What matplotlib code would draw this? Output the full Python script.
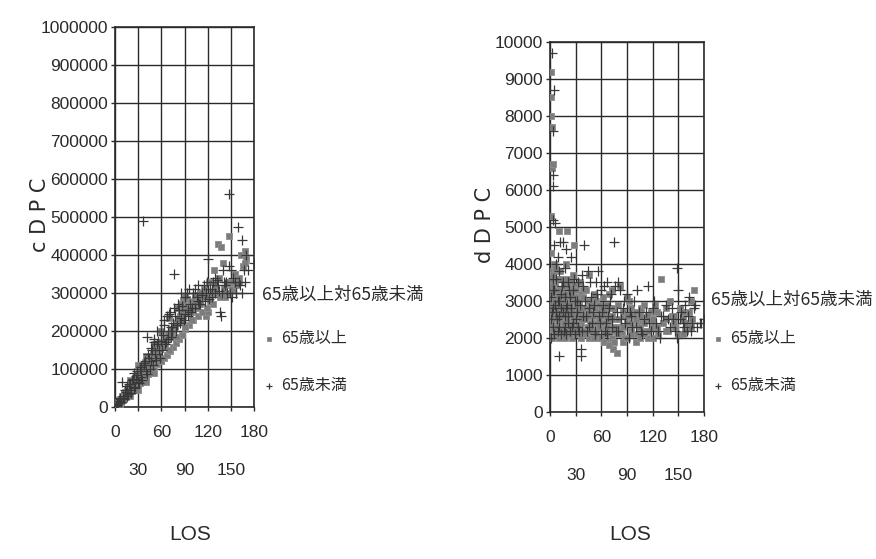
import matplotlib
matplotlib.use("Agg")
import matplotlib.pyplot as plt

# データ: 左 = cDPC (千円), 右 = dDPC (円/日), 横軸 = LOS (日)
los_c_old = [1, 2, 3, 4, 5, 6, 7, 8, 9, 10, 11, 12, 13, 14, 15, 16, 17, 18, 19, 20,
             21, 22, 23, 24, 25, 26, 27, 28, 29, 30, 31, 32, 33, 34, 35, 36, 37, 38, 39, 40,
             42, 44, 45, 46, 48, 50, 52, 54, 55, 56, 58, 60, 62, 64, 65, 66, 68, 70, 72, 74,
             75, 76, 78, 80, 82, 84, 85, 86, 88, 90, 92, 95, 98, 100, 102, 105, 108, 110, 112, 115,
             118, 120, 122, 125, 128, 130, 133, 135, 137, 140, 142, 145, 147, 150, 152, 155, 160, 163, 168, 170,
             2, 3, 4, 5, 6, 7, 8, 9, 10, 11, 12, 13, 14, 15, 16, 17, 18, 19, 20, 21,
             22, 23, 24, 25, 26, 27, 28, 29, 30, 31, 32, 33, 34, 35, 36, 37, 38, 39, 40, 41,
             43, 45, 47, 49, 51, 53, 55, 57, 59, 61, 63, 65, 67, 69, 71, 73, 75, 77, 79, 81,
             83, 85, 87, 89, 91, 93, 96, 99, 101, 104, 107, 110, 113, 116, 119, 123, 127, 131, 136, 141,
             146, 151, 156, 161, 166, 168,
             20, 30, 40, 50, 60, 70, 80, 90, 100, 20, 30, 40, 50, 60, 70, 80, 90]
cdpc_old = [3, 6, 9, 12, 10, 18, 15, 22, 20, 28, 25, 33, 30, 38, 36, 42, 40, 48, 45, 52,
            50, 58, 55, 62, 60, 68, 64, 72, 70, 78, 74, 85, 80, 90, 86, 95, 92, 100, 96, 105,
            110, 115, 108, 122, 126, 130, 138, 140, 132, 150, 152, 160, 165, 170, 158, 180, 182, 190, 195, 198,
            185, 210, 212, 220, 225, 240, 230, 270, 280, 260, 250, 265, 270, 275, 280, 260, 290, 270, 300, 310,
            240, 250, 330, 300, 360, 320, 430, 340, 420, 380, 290, 330, 450, 320, 310, 350, 330, 400, 410, 390,
            3, 12, 6, 18, 9, 22, 14, 28, 18, 34, 22, 40, 26, 46, 30, 52, 34, 58, 38, 62,
            42, 68, 46, 74, 50, 80, 54, 86, 58, 92, 62, 98, 66, 104, 70, 112, 74, 118, 78, 124,
            88, 132, 96, 140, 104, 150, 112, 160, 120, 172, 130, 182, 138, 192, 148, 205, 158, 214, 168, 232,
            178, 250, 190, 262, 205, 285, 215, 250, 228, 295, 240, 300, 250, 290, 260, 280, 270, 300, 290, 310,
            300, 330, 320, 340, 370, 380,
            30, 45, 65, 90, 120, 150, 185, 210, 230, 70, 110, 135, 165, 200, 235, 260, 290]

los_c_young = [1, 2, 3, 5, 7, 8, 9, 10, 12, 14, 15, 17, 19, 20, 22, 24, 25, 27, 29, 30,
               32, 34, 36, 37, 39, 40, 42, 44, 46, 48, 50, 52, 54, 55, 57, 60, 62, 64, 66, 68,
               70, 72, 75, 77, 78, 80, 83, 85, 87, 90, 93, 95, 97, 100, 103, 106, 108, 110, 112, 115,
               118, 120, 122, 125, 127, 130, 132, 135, 137, 140, 142, 145, 147, 148, 150, 152, 155, 157, 159, 162,
               165, 167, 170, 172, 180,
               4, 6, 11, 13, 16, 18, 21, 23, 26, 28, 31, 33, 35, 38, 41, 43, 45, 47, 49, 51,
               53, 56, 58, 59, 61, 63, 65, 67, 69, 71, 73, 74, 76, 79, 81, 84, 86, 89, 91, 94,
               96, 99, 101, 104, 107, 109, 113, 116, 119, 123, 126, 129, 133, 136, 138, 141, 144, 149, 153, 156,
               161, 164, 168]
cdpc_young = [2, 8, 5, 15, 20, 12, 65, 30, 25, 40, 55, 35, 60, 45, 70, 50, 90, 75, 95, 65,
              100, 80, 490, 110, 120, 95, 185, 130, 120, 150, 170, 140, 165, 200, 150, 175, 190, 215, 170, 200,
              245, 210, 220, 350, 240, 215, 255, 235, 265, 245, 300, 255, 270, 260, 310, 290, 280, 270, 295, 320,
              300, 390, 285, 310, 330, 300, 335, 305, 240, 360, 320, 300, 560, 370, 360, 290, 330, 300, 475, 320,
              440, 360, 400, 360, 380,
              10, 25, 20, 45, 28, 60, 38, 75, 52, 85, 62, 105, 72, 115, 88, 140, 100, 155, 110, 180,
              125, 175, 130, 200, 150, 230, 165, 240, 180, 250, 185, 200, 260, 200, 270, 220, 300, 230, 290, 240,
              310, 250, 300, 260, 320, 270, 300, 280, 330, 310, 290, 340, 320, 250, 300, 330, 330, 300, 340, 300,
              330, 300, 330]

los_d_old = [1, 1, 1, 1, 1, 1, 1, 1, 2, 2, 2, 2, 3, 3, 3, 3, 4, 4, 5, 5,
             5, 6, 6, 7, 7, 8, 8, 9, 9, 10, 10, 10, 11, 12, 12, 13, 14, 14, 15, 16,
             16, 17, 18, 18, 19, 20, 20, 21, 22, 23, 24, 25, 25, 26, 27, 28, 28, 29, 30, 31,
             32, 33, 34, 35, 36, 37, 38, 39, 40, 42, 44, 46, 48, 50, 52, 54, 56, 58, 60, 62,
             64, 66, 68, 70, 72, 74, 76, 78, 80, 82, 84, 86, 88, 90, 92, 95, 98, 100, 103, 106,
             109, 112, 115, 118, 120, 123, 126, 130, 132, 135, 138, 140, 143, 146, 150, 152, 155, 158, 160, 163,
             166, 168,
             0, 0, 0, 2, 2, 2, 4, 4, 4, 6, 6, 6, 8, 8, 8, 10, 10, 10, 12, 12,
             12, 14, 14, 14, 16, 16, 16, 18, 18, 18, 20, 20, 20, 22, 22, 22, 24, 24, 24, 26,
             26, 26, 28, 28, 28, 30, 30, 30, 33, 33, 33, 36, 36, 36, 39, 39, 39, 42, 42, 42,
             45, 45, 45, 48, 48, 48, 51, 51, 51, 54, 54, 54, 57, 57, 57, 60, 60, 60, 63, 63,
             63, 66, 66, 66, 69, 69, 69, 72, 72, 72, 75, 75, 75, 80, 80, 80, 85, 85, 85, 90,
             90, 90, 95, 95, 95, 100, 100, 100, 105, 105, 105, 110, 110, 110, 115, 115, 120, 120, 125, 125,
             135, 135, 145, 145, 155, 155, 165, 165]
ddpc_old = [2100, 2900, 3500, 4300, 5300, 8000, 8500, 9200, 2400, 3200, 6600, 7700, 2200, 2700, 3800, 6700, 2500, 3100, 2300, 2900,
            4000, 2600, 3400, 2200, 3000, 2800, 3600, 2400, 3200, 2100, 2700, 4900, 3000, 2500, 3800, 2300, 2900, 3300, 2600, 2200,
            3100, 2800, 2400, 3500, 4000, 2700, 4900, 2300, 3000, 2500, 2900, 2200, 3300, 2600, 3700, 2400, 4500, 2800, 2300, 3100,
            2600, 2200, 2900, 3500, 2400, 2700, 2100, 3300, 2500, 2800, 2300, 3700, 2600, 2200, 3100, 2400, 2000, 2700, 2300, 3100,
            2100, 2500, 1900, 2800, 2200, 1700, 2500, 1600, 2300, 3400, 2100, 2600, 2000, 2400, 3000, 2200, 2600, 2100, 2400, 2800,
            2200, 2500, 2000, 2700, 2300, 2900, 2100, 3600, 2400, 2800, 2200, 3000, 2600, 2300, 2100, 2800, 2500, 2200, 2400, 2700,
            2500, 3300,
            2300, 2700, 3200, 2000, 2900, 3400, 2200, 2600, 3700, 2100, 3000, 3900, 2300, 2600, 3300, 2000, 3100, 3600, 2200, 2900,
            3300, 2100, 2600, 3600, 2400, 2800, 3400, 2000, 3000, 3200, 2200, 2500, 3600, 2100, 2700, 3400, 2300, 3100, 3500, 2000,
            2800, 3200, 2200, 2600, 3400, 2100, 2900, 3300, 2300, 2700, 3000, 2000, 2500, 3200, 2200, 2800, 3100, 2100, 2500, 3300,
            2000, 2700, 3000, 2200, 2400, 2900, 2000, 2600, 3200, 2100, 2800, 3000, 2300, 2500, 2900, 2000, 2600, 2800, 1900, 2400,
            2700, 2100, 2300, 2900, 1800, 2500, 3200, 2000, 2600, 3300, 1900, 2300, 2800, 2100, 2500, 2900, 1900, 2300, 2700, 2000,
            2600, 3100, 2100, 2400, 2800, 1900, 2500, 2700, 2000, 2300, 2600, 2100, 2400, 2900, 2200, 2600, 2000, 2500, 2300, 2700,
            2200, 2500, 2400, 2600, 2100, 2700, 2300, 3000]

los_d_young = [2, 5, 4, 4, 3, 4, 6, 1, 2, 3, 4, 5, 6, 7, 8, 9, 10, 10, 11, 12,
               13, 14, 15, 16, 17, 18, 19, 20, 21, 22, 24, 25, 26, 28, 30, 32, 34, 36, 36, 38,
               40, 42, 44, 46, 48, 50, 52, 54, 56, 58, 60, 62, 64, 66, 68, 70, 72, 75, 76, 78,
               80, 82, 85, 88, 90, 92, 95, 98, 100, 104, 108, 110, 115, 118, 120, 124, 128, 132, 135, 140,
               144, 148, 148, 150, 152, 155, 158, 160, 163, 166, 170, 172, 175, 180,
               1, 1, 3, 3, 5, 5, 7, 7, 9, 9, 11, 11, 13, 13, 15, 15, 17, 17, 19, 19,
               21, 21, 23, 23, 25, 27, 27, 29, 29, 31, 33, 33, 35, 37, 37, 39, 41, 43, 45, 47,
               49, 51, 53, 55, 57, 59, 61, 63, 65, 67, 69, 71, 73, 77, 79, 83, 86, 93, 96, 102,
               106, 112, 116, 122, 126, 130, 138, 142, 146, 153, 157, 161, 165, 168, 177]
ddpc_young = [9700, 8700, 7600, 6400, 6100, 5200, 5100, 2000, 2700, 3300, 2300, 4500, 2900, 3600, 2500, 4200, 1500, 3000, 2300, 4600,
              2800, 3400, 4600, 2200, 3100, 2600, 4400, 2900, 2400, 3300, 2700, 4200, 2300, 3600, 2500, 3000, 2200, 1500, 1700, 3400,
              4500, 2600, 3800, 2300, 3100, 2700, 2100, 3500, 3800, 2400, 3300, 2900, 2200, 3500, 2600, 3000, 2300, 4600, 3400, 2700,
              2200, 3300, 2800, 2400, 3200, 2000, 2600, 3000, 2300, 2700, 2100, 2500, 3400, 2200, 2800, 2400, 2000, 2600, 2900, 2300,
              2500, 3900, 2000, 3300, 2500, 2400, 2900, 2200, 3100, 2400, 2900, 2300, 2400, 2500,
              2500, 3100, 2800, 3600, 2100, 3300, 2700, 4000, 2200, 3000, 3800, 2600, 2100, 3200, 2700, 3500, 2300, 3900, 2800, 2100,
              3500, 2600, 2200, 3100, 2800, 2400, 3300, 2100, 3000, 2700, 3500, 2300, 2900, 2200, 3700, 2600, 3000, 2200, 2800, 3500,
              2400, 2900, 2200, 3200, 2600, 2100, 2700, 3400, 2400, 2100, 2800, 3200, 2500, 2200, 3500, 2500, 3000, 2700, 2300, 3300,
              2200, 2700, 2400, 3000, 2200, 2600, 2500, 2800, 2200, 2700, 2300, 2600, 2200, 2800, 2400]

legend_title = "65歳以上対65歳未満"
label_old = "65歳以上"
label_young = "65歳未満"

num_font = ["Liberation Sans", "DejaVu Sans"]
jp_font = ["Noto Sans CJK JP", "DejaVu Sans"]
ink = "#2a2a2a"

fig = plt.figure(figsize=(8.76, 5.59), dpi=100)


def draw_panel(ax, x_old, y_old, x_young, y_young, ymax, ystep):
    ax.scatter(x_old, y_old, marker="s", s=20, c="#7c7c7c", edgecolors="#8e8e8e",
               linewidths=0.6, label=label_old, zorder=3)
    ax.scatter(x_young, y_young, marker="+", s=50, c="#383838", linewidths=0.9,
               label=label_young, zorder=4)
    ax.set_xlim(0, 180)
    ax.set_ylim(0, ymax)
    ax.set_xticks([0, 60, 120, 180])
    ax.set_xticklabels(["0", "60", "120", "180"])
    ax.set_xticks([30, 90, 150], minor=True)
    ax.set_xticklabels(["30", "90", "150"], minor=True)
    ax.set_yticks(range(0, ymax + 1, ystep))
    ax.ticklabel_format(axis="y", style="plain", useOffset=False)
    ax.grid(True, which="both", color=ink, linewidth=1.0)
    ax.set_axisbelow(True)
    ax.tick_params(axis="y", length=3, width=1, pad=2, labelsize=12.5, colors=ink)
    ax.tick_params(axis="x", which="major", length=3, width=1, pad=10, labelsize=12.5, colors=ink)
    ax.tick_params(axis="x", which="minor", length=3, width=1, pad=37, labelsize=12.5, colors=ink)
    for lab in ax.get_xticklabels(which="both") + ax.get_yticklabels():
        lab.set_family(num_font)
    for s in ax.spines.values():
        s.set_color(ink)
        s.set_linewidth(1.2)


ax1 = fig.add_axes([0.1313, 0.2719, 0.1587, 0.6798])
draw_panel(ax1, los_c_old, [v * 1000 for v in cdpc_old],
           los_c_young, [v * 1000 for v in cdpc_young], 1000000, 100000)

ax2 = fig.add_axes([0.6279, 0.2630, 0.1758, 0.6619])
draw_panel(ax2, los_d_old, ddpc_old, los_d_young, ddpc_young, 10000, 1000)

# 軸ラベル
fig.text(40 / 876, 1 - 215 / 559, "c D P C", rotation=90, ha="center", va="center",
         fontsize=15, family="DejaVu Sans", color=ink)
fig.text(485 / 876, 1 - 225 / 559, "d D P C", rotation=90, ha="center", va="center",
         fontsize=15, family="DejaVu Sans", color=ink)
fig.text(190 / 876, 1 - 535 / 559, "LOS", ha="center", va="center",
         fontsize=15, family=num_font, color=ink)
fig.text(630 / 876, 1 - 535 / 559, "LOS", ha="center", va="center",
         fontsize=15, family=num_font, color=ink)

# 凡例
for ax, x0, ytitle in [(ax1, 262, 295), (ax2, 711, 300)]:
    fig.text(x0 / 876, 1 - ytitle / 559, legend_title, ha="left", va="center",
             fontsize=12.6, family=jp_font, color=ink)
    leg = ax.legend(loc="upper left", bbox_to_anchor=((x0 - 3) / 876, 1 - 330 / 559),
                    bbox_transform=fig.transFigure, frameon=False,
                    prop={"family": jp_font, "size": 11.5}, markerscale=0.6,
                    labelspacing=1.9, handletextpad=0.2, handlelength=1.2,
                    borderaxespad=0, borderpad=0)
    for t in leg.get_texts():
        t.set_color(ink)

fig.savefig("out.png", dpi=100)
